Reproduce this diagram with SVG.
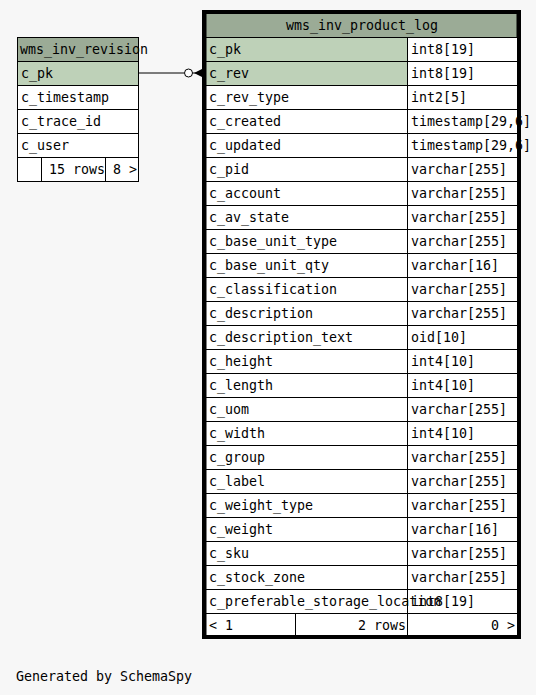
<svg xmlns="http://www.w3.org/2000/svg" width="536" height="695" viewBox="0 0 536 695">
  <style>
    text { font-family: "DejaVu Sans Mono", "Liberation Mono", monospace; font-size: 13.3px; fill: #000; }
    .hdr { fill: #9bab96; stroke: #000; stroke-width: 1; }
    .key { fill: #bed1b8; stroke: #000; stroke-width: 1; }
    .cell { fill: #fff; stroke: #000; stroke-width: 1; }
    .end { text-anchor: end; }
    .mid { text-anchor: middle; }
  </style>
  <rect width="536" height="695" fill="#f7f7f7"/>

  <!-- connectors -->
  <g id="connectors">
    <line x1="138.5" y1="73" x2="184" y2="73" stroke="#000" stroke-width="1"/>
    <circle cx="188.5" cy="73" r="4" fill="#fff" stroke="#000" stroke-width="1"/>
    <line x1="192.5" y1="73" x2="203" y2="73" stroke="#000" stroke-width="1"/>
    <polygon points="194,73 203,68.5 203,77.5" fill="#000"/>
  </g>

  <!-- wms_inv_revision -->
  <g id="wms_inv_revision">
    <rect class="hdr" x="17.5" y="37.5" width="121" height="24"/>
    <rect class="key" x="17.5" y="61.5" width="121" height="24"/>
    <rect class="cell" x="17.5" y="85.5" width="121" height="24"/>
    <rect class="cell" x="17.5" y="109.5" width="121" height="24"/>
    <rect class="cell" x="17.5" y="133.5" width="121" height="24"/>
    <rect class="cell" x="17.5" y="157.5" width="24" height="24"/>
    <rect class="cell" x="41.5" y="157.5" width="64" height="24"/>
    <rect class="cell" x="105.5" y="157.5" width="33" height="24"/>
    <text x="20" y="54">wms_inv_revision</text>
    <text x="21" y="78">c_pk</text>
    <text x="21" y="102">c_timestamp</text>
    <text x="21" y="126">c_trace_id</text>
    <text x="21" y="150">c_user</text>
    <text class="end" x="105" y="174">15 rows</text>
    <text class="end" x="137" y="174">8 &gt;</text>
  </g>

  <!-- wms_inv_product_log -->
  <g id="wms_inv_product_log">
    <rect class="hdr" x="206" y="13.5" width="311" height="24"/>
    <rect class="key" x="206" y="37.5" width="201.5" height="24"/>
    <rect class="cell" x="407.5" y="37.5" width="110" height="24"/>
    <rect class="key" x="206" y="61.5" width="201.5" height="24"/>
    <rect class="cell" x="407.5" y="61.5" width="110" height="24"/>
    <g class="rows">
      <rect class="cell" x="206" y="85.5" width="201.5" height="24"/><rect class="cell" x="407.5" y="85.5" width="110" height="24"/>
      <rect class="cell" x="206" y="109.5" width="201.5" height="24"/><rect class="cell" x="407.5" y="109.5" width="110" height="24"/>
      <rect class="cell" x="206" y="133.5" width="201.5" height="24"/><rect class="cell" x="407.5" y="133.5" width="110" height="24"/>
      <rect class="cell" x="206" y="157.5" width="201.5" height="24"/><rect class="cell" x="407.5" y="157.5" width="110" height="24"/>
      <rect class="cell" x="206" y="181.5" width="201.5" height="24"/><rect class="cell" x="407.5" y="181.5" width="110" height="24"/>
      <rect class="cell" x="206" y="205.5" width="201.5" height="24"/><rect class="cell" x="407.5" y="205.5" width="110" height="24"/>
      <rect class="cell" x="206" y="229.5" width="201.5" height="24"/><rect class="cell" x="407.5" y="229.5" width="110" height="24"/>
      <rect class="cell" x="206" y="253.5" width="201.5" height="24"/><rect class="cell" x="407.5" y="253.5" width="110" height="24"/>
      <rect class="cell" x="206" y="277.5" width="201.5" height="24"/><rect class="cell" x="407.5" y="277.5" width="110" height="24"/>
      <rect class="cell" x="206" y="301.5" width="201.5" height="24"/><rect class="cell" x="407.5" y="301.5" width="110" height="24"/>
      <rect class="cell" x="206" y="325.5" width="201.5" height="24"/><rect class="cell" x="407.5" y="325.5" width="110" height="24"/>
      <rect class="cell" x="206" y="349.5" width="201.5" height="24"/><rect class="cell" x="407.5" y="349.5" width="110" height="24"/>
      <rect class="cell" x="206" y="373.5" width="201.5" height="24"/><rect class="cell" x="407.5" y="373.5" width="110" height="24"/>
      <rect class="cell" x="206" y="397.5" width="201.5" height="24"/><rect class="cell" x="407.5" y="397.5" width="110" height="24"/>
      <rect class="cell" x="206" y="421.5" width="201.5" height="24"/><rect class="cell" x="407.5" y="421.5" width="110" height="24"/>
      <rect class="cell" x="206" y="445.5" width="201.5" height="24"/><rect class="cell" x="407.5" y="445.5" width="110" height="24"/>
      <rect class="cell" x="206" y="469.5" width="201.5" height="24"/><rect class="cell" x="407.5" y="469.5" width="110" height="24"/>
      <rect class="cell" x="206" y="493.5" width="201.5" height="24"/><rect class="cell" x="407.5" y="493.5" width="110" height="24"/>
      <rect class="cell" x="206" y="517.5" width="201.5" height="24"/><rect class="cell" x="407.5" y="517.5" width="110" height="24"/>
      <rect class="cell" x="206" y="541.5" width="201.5" height="24"/><rect class="cell" x="407.5" y="541.5" width="110" height="24"/>
      <rect class="cell" x="206" y="565.5" width="201.5" height="24"/><rect class="cell" x="407.5" y="565.5" width="110" height="24"/>
      <rect class="cell" x="206" y="589.5" width="201.5" height="24"/><rect class="cell" x="407.5" y="589.5" width="110" height="24"/>
      <rect class="cell" x="206" y="613.5" width="89.5" height="22"/>
      <rect class="cell" x="295.5" y="613.5" width="112" height="22"/>
      <rect class="cell" x="407.5" y="613.5" width="110" height="22"/>
    </g>
    <text class="mid" x="362" y="30">wms_inv_product_log</text>
    <g class="names">
      <text x="209" y="54">c_pk</text>
      <text x="209" y="78">c_rev</text>
      <text x="209" y="102">c_rev_type</text>
      <text x="209" y="126">c_created</text>
      <text x="209" y="150">c_updated</text>
      <text x="209" y="174">c_pid</text>
      <text x="209" y="198">c_account</text>
      <text x="209" y="222">c_av_state</text>
      <text x="209" y="246">c_base_unit_type</text>
      <text x="209" y="270">c_base_unit_qty</text>
      <text x="209" y="294">c_classification</text>
      <text x="209" y="318">c_description</text>
      <text x="209" y="342">c_description_text</text>
      <text x="209" y="366">c_height</text>
      <text x="209" y="390">c_length</text>
      <text x="209" y="414">c_uom</text>
      <text x="209" y="438">c_width</text>
      <text x="209" y="462">c_group</text>
      <text x="209" y="486">c_label</text>
      <text x="209" y="510">c_weight_type</text>
      <text x="209" y="534">c_weight</text>
      <text x="209" y="558">c_sku</text>
      <text x="209" y="582">c_stock_zone</text>
      <text x="209" y="606">c_preferable_storage_location</text>
    </g>
    <g class="types">
      <text x="411" y="54">int8[19]</text>
      <text x="411" y="78">int8[19]</text>
      <text x="411" y="102">int2[5]</text>
      <text x="411" y="126">timestamp[29,6]</text>
      <text x="411" y="150">timestamp[29,6]</text>
      <text x="411" y="174">varchar[255]</text>
      <text x="411" y="198">varchar[255]</text>
      <text x="411" y="222">varchar[255]</text>
      <text x="411" y="246">varchar[255]</text>
      <text x="411" y="270">varchar[16]</text>
      <text x="411" y="294">varchar[255]</text>
      <text x="411" y="318">varchar[255]</text>
      <text x="411" y="342">oid[10]</text>
      <text x="411" y="366">int4[10]</text>
      <text x="411" y="390">int4[10]</text>
      <text x="411" y="414">varchar[255]</text>
      <text x="411" y="438">int4[10]</text>
      <text x="411" y="462">varchar[255]</text>
      <text x="411" y="486">varchar[255]</text>
      <text x="411" y="510">varchar[255]</text>
      <text x="411" y="534">varchar[16]</text>
      <text x="411" y="558">varchar[255]</text>
      <text x="411" y="582">varchar[255]</text>
      <text x="411" y="606">int8[19]</text>
    </g>
    <text x="209" y="630">&lt; 1</text>
    <text class="end" x="406" y="630">2 rows</text>
    <text class="end" x="515" y="630">0 &gt;</text>
    <rect x="204" y="12" width="315" height="625" fill="none" stroke="#000" stroke-width="4"/>
  </g>

  <text x="16" y="681">Generated by SchemaSpy</text>
</svg>
